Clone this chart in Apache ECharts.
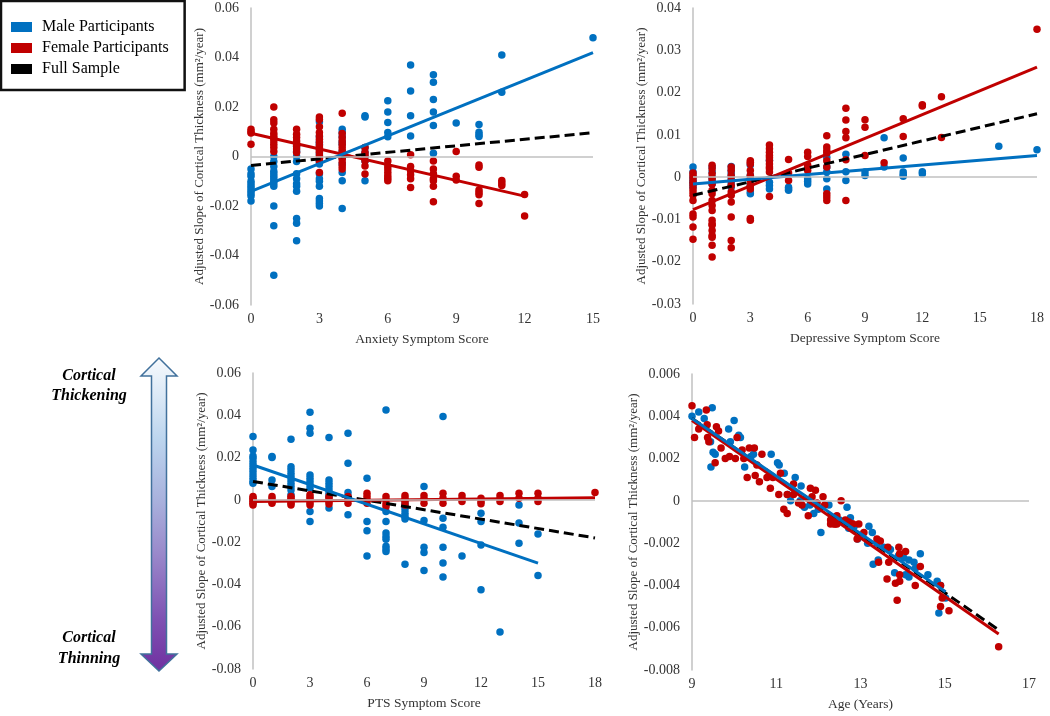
<!DOCTYPE html>
<html><head><meta charset="utf-8">
<script src="https://cdn.jsdelivr.net/npm/echarts@6/dist/echarts.min.js"></script>
<style>html,body{margin:0;padding:0;background:#fff}#c{width:1050px;height:716px}</style>
</head><body><div id="c"></div>
<script>
// ---------- DATA ----------
const xTitles = ['Anxiety Symptom Score','Depressive Symptom Score','PTS Symptom Score','Age (Years)'];
const yTitle = 'Adjusted Slope of Cortical Thickness (mm²/year)';
const legendNames = ['Male Participants','Female Participants','Full Sample'];

const anxietyMale = [
[0,-0.005],[0,-0.007],[0,-0.008],[0,-0.010],[0,-0.011],[0,-0.012],[0,-0.013],[0,-0.014],[0,-0.015],[0,-0.016],[0,-0.018],
[1,0.000],[1,-0.002],[1,-0.004],[1,-0.006],[1,-0.007],[1,-0.008],[1,-0.009],[1,-0.010],[1,-0.011],[1,-0.012],[1,-0.020],[1,-0.028],[1,-0.048],
[2,0.004],[2,0.002],[2,0.000],[2,-0.002],[2,-0.007],[2,-0.009],[2,-0.011],[2,-0.012],[2,-0.014],[2,-0.025],[2,-0.027],[2,-0.034],
[3,0.014],[3,0.008],[3,0.006],[3,0.005],[3,0.003],[3,0.001],[3,-0.002],[3,-0.003],[3,-0.007],[3,-0.009],[3,-0.010],[3,-0.012],[3,-0.017],[3,-0.018],[3,-0.019],[3,-0.020],
[4,0.011],[4,0.0097],[4,0.008],[4,0.006],[4,0.005],[4,0.002],[4,-0.0005],[4,-0.003],[4,-0.0065],[4,-0.0098],[4,-0.021],
[5,0.0165],[5,0.016],[5,0.0036],[5,0.0016],[5,0],[5,-0.0018],[5,-0.0098],
[6,0.0225],[6,0.018],[6,0.0137],[6,0.0097],[6,0.008],
[7,0.037],[7,0.0265],[7,0.0165],[7,0.0083],
[8,0.033],[8,0.030],[8,0.023],[8,0.018],[8,0.0125],[8,0.0013],
[9,0.0135],
[10,0.0129],[10,0.0098],[10,0.0088],[10,0.0081],
[11,0.041],[11,0.026],
[15,0.048]
];
const anxietyFemale = [
[0,0.011],[0,0.010],[0,0.0095],[0,0.005],
[1,0.020],[1,0.0148],[1,0.0135],[1,0.011],[1,0.0094],[1,0.0083],[1,0.0074],[1,0.0063],[1,0.005],[1,0.0036],[1,0.002],
[2,0.011],[2,0.009],[2,0.0077],[2,0.0063],[2,0.0053],[2,0.0043],[2,0.003],[2,0.0016],
[3,0.016],[3,0.015],[3,0.012],[3,0.0097],[3,0.0083],[3,0.007],[3,0.0057],[3,0.0043],[3,0.0036],[3,0.0023],[3,0.0016],[3,0.0003],[3,-0.0007],[3,-0.0017],[3,-0.0065],
[4,0.0175],[4,0.0093],[4,0.0077],[4,0.0063],[4,0.005],[4,0.0036],[4,0.0023],[4,0.001],[4,-0.0001],[4,-0.001],[4,-0.0024],[4,-0.0038],[4,-0.005],
[5,0.0036],[5,0.0016],[5,0.0003],[5,-0.0017],[5,-0.0038],[5,-0.0071],
[6,-0.0018],[6,-0.0038],[6,-0.005],[6,-0.0065],[6,-0.0078],[6,-0.0088],[6,-0.0098],
[7,0.0007],[7,-0.004],[7,-0.0058],[7,-0.0074],[7,-0.009],[7,-0.0125],
[8,-0.0018],[8,-0.005],[8,-0.007],[8,-0.009],[8,-0.0098],[8,-0.012],[8,-0.0183],
[9,0.002],[9,-0.008],[9,-0.0095],
[10,-0.0034],[10,-0.0043],[10,-0.0135],[10,-0.0145],[10,-0.0155],[10,-0.019],
[11,-0.0097],[11,-0.0107],[11,-0.0117],
[12,-0.0154],[12,-0.024]
];
const anxietyTrendMale = [[0,-0.0141],[15,0.042]];
const anxietyTrendFemale = [[0,0.0094],[12,-0.016]];
const anxietyTrendAll = [[0,-0.0036],[15,0.0096]];

const depressiveMale = [
[0,0.0024],[0,0.0012],[0,0],[0,-0.0008],[0,-0.0012],[0,-0.0016],[0,-0.0024],
[1,0.0024],[1,0.0012],[1,0],[1,-0.0008],[1,-0.0016],
[2,0.0025],[2,0.0016],[2,0.0008],[2,0],[2,-0.0008],[2,-0.0016],[2,-0.0024],
[3,0.0029],[3,0.0004],[3,-0.0004],[3,-0.002],[3,-0.0035],[3,-0.0039],
[4,0.004],[4,-0.0012],[4,-0.002],[4,-0.0028],
[5,-0.0024],[5,-0.0028],[5,-0.0031],
[6,-0.0004],[6,-0.001],[6,-0.0016],
[7,0.0047],[7,0.0024],[7,0.0012],[7,-0.0004],[7,-0.0028],
[8,0.0054],[8,0.0013],[8,-0.0008],
[9,0.0012],[9,0.0004],
[10,0.0093],[10,0.0024],
[11,0.0045],[11,0.0012],[11,0.0006],[11,0.0002],
[12,0.0013],[12,0.0008],
[16,0.0073],
[18,0.0065]
];
const depressiveFemale = [
[0,0.001],[0,0.0004],[0,-0.0004],[0,-0.0012],[0,-0.002],[0,-0.0028],[0,-0.0035],[0,-0.0043],[0,-0.0055],[0,-0.0087],[0,-0.0094],[0,-0.0118],[0,-0.0147],
[1,0.0028],[1,0.002],[1,0.0008],[1,-0.0004],[1,-0.0016],[1,-0.0031],[1,-0.0039],[1,-0.0055],[1,-0.0067],[1,-0.0079],[1,-0.0102],[1,-0.011],[1,-0.0114],[1,-0.0126],[1,-0.0138],[1,-0.0142],[1,-0.0161],[1,-0.0189],
[2,0.0024],[2,0.0016],[2,0.0004],[2,-0.0008],[2,-0.002],[2,-0.0035],[2,-0.0043],[2,-0.0059],[2,-0.0094],[2,-0.015],[2,-0.0167],
[3,0.0039],[3,0.0035],[3,0.0031],[3,0.0016],[3,0.0004],[3,-0.0008],[3,-0.002],[3,-0.0028],[3,-0.0098],[3,-0.0102],
[4,0.0076],[4,0.0067],[4,0.0059],[4,0.0051],[4,0.0046],[4,0.0039],[4,0.0031],[4,0.0024],[4,0.002],[4,0.0012],[4,-0.0046],
[5,0.0042],[5,0.001],[5,-0.0008],
[6,0.0059],[6,0.0049],[6,0.0028],[6,0.0024],[6,0.0016],
[7,0.0098],[7,0.0071],[7,0.0063],[7,0.0057],[7,0.0039],[7,0.0024],[7,-0.0039],[7,-0.0047],[7,-0.0055],
[8,0.0163],[8,0.0135],[8,0.0108],[8,0.0093],[8,0.0041],[8,-0.0055],
[9,0.0136],[9,0.0118],[9,0.0051],
[10,0.0034],
[11,0.0138],[11,0.0096],
[12,0.0171],[12,0.0168],
[13,0.019],[13,0.0094],
[18,0.035]
];
const depressiveTrendMale = [[0,-0.0016],[18,0.0051]];
const depressiveTrendFemale = [[0,-0.0077],[18,0.026]];
const depressiveTrendAll = [[0,-0.0043],[18,0.015]];

const ptsMale = [
[0,0.030],[0,0.0236],[0,0.0208],[0,0.0197],[0,0.018],[0,0.0165],[0,0.015],[0,0.0134],[0,0.0118],[0,0.0102],[0,0.0087],[0,0.0079],
[1,0.0205],[1,0.0200],[1,0.0094],[1,0.0063],
[2,0.0287],[2,0.0157],[2,0.0142],[2,0.0126],[2,0.011],[2,0.0094],[2,0.0079],[2,0.0063],[2,0.0047],[2,0.0024],
[3,0.0414],[3,0.0339],[3,0.0315],[3,0.0118],[3,0.0102],[3,0.0087],[3,0.0071],[3,0.0055],[3,-0.0055],[3,-0.0102],
[4,0.0295],[4,0.0094],[4,0.0079],[4,0.0063],[4,0.0047],[4,0.0031],[4,0.0016],[4,-0.0038],
[5,0.0315],[5,0.0173],[5,0.0035],[5,0.0016],[5,-0.0071],
[6,0.0102],[6,-0.0102],[6,-0.0146],[6,-0.0265],
[7,0.0425],[7,-0.0055],[7,-0.0102],[7,-0.0157],[7,-0.0173],[7,-0.0186],[7,-0.022],[7,-0.0233],[7,-0.0244],
[8,-0.0016],[8,-0.0031],[8,-0.0047],[8,-0.0063],[8,-0.0079],[8,-0.0091],[8,-0.0304],
[9,0.0063],[9,-0.0098],[9,-0.0224],[9,-0.0249],[9,-0.0334],
[10,0.0394],[10,-0.0087],[10,-0.0129],[10,-0.0224],[10,-0.0299],[10,-0.0365],
[11,-0.0265],
[12,-0.0063],[12,-0.0102],[12,-0.0213],[12,-0.0425],
[13,-0.0625],
[14,-0.0024],[14,-0.011],[14,-0.0205],
[15,-0.0161],[15,-0.0358]
];
const ptsFemale = [
[0,0.0016],[0,0.0008],[0,0],[0,-0.0008],[0,-0.0016],[0,-0.0024],
[1,0.0016],[1,0.0004],[1,-0.0008],[1,-0.0016],
[2,0.0016],[2,0.0008],[2,-0.0004],[2,-0.0016],[2,-0.0024],
[3,0.0024],[3,0.0012],[3,0],[3,-0.0012],[3,-0.0024],
[4,0.0016],[4,0.0004],[4,-0.0008],[4,-0.002],
[5,0.0016],[5,0],[5,-0.0016],
[6,0.0031],[6,0.0016],[6,0],[6,-0.0016],
[7,0.0016],[7,0],[7,-0.0019],[7,-0.0031],
[8,0.0021],[8,0.0008],[8,-0.0008],[8,-0.0024],
[9,0.0021],[9,0.0005],[9,-0.0016],
[10,0.0031],[10,0.0008],[10,-0.0016],
[11,0.0021],[11,0.0005],[11,-0.0008],
[12,0.0008],[12,-0.0008],[12,-0.0019],
[13,0.0021],[13,0.0005],[13,-0.0008],
[14,0.0031],[14,0.0008],
[15,0.0031],[15,0.0008],[15,-0.0008],
[18,0.0035]
];
const ptsTrendMale = [[0,0.0165],[15,-0.0299]];
const ptsTrendFemale = [[0,-0.0008],[18,0.001]];
const ptsTrendAll = [[0,0.0087],[18,-0.018]];

const ageMale = [
[9.0,0.0040],[9.16,0.0042],[9.29,0.0039],[9.44,0.0028],[9.45,0.0016],[9.48,0.0044],[9.5,0.0023],[9.55,0.0022],
[9.87,0.0034],[9.91,0.0028],[10.0,0.0038],[10.11,0.0031],[10.15,0.0030],[10.25,0.0016],[10.4,0.0021],[10.46,0.0022],
[10.88,0.0022],[11.03,0.0018],[11.07,0.0017],[11.19,0.0013],[11.27,0.0003],[11.34,0.0],[11.45,0.0011],[11.57,0.0],
[11.59,0.0007],[11.67,-0.0003],[11.8,-0.0002],[11.89,-0.0006],[12.0,-0.0004],[12.06,-0.0015],[12.25,-0.0002],[12.5,-0.0009],
[12.68,-0.0003],[12.72,-0.0013],[12.76,-0.0008],[12.85,-0.0012],[12.93,-0.0018],[13.05,-0.0016],[13.17,-0.0020],[13.2,-0.0012],
[13.28,-0.0015],[13.3,-0.0030],[13.39,-0.0020],[13.42,-0.0028],[13.55,-0.0022],[13.71,-0.0023],[13.81,-0.0034],[13.9,-0.0026],
[14.03,-0.0027],[14.07,-0.0035],[14.15,-0.0036],[14.15,-0.0028],[14.27,-0.0029],[14.3,-0.0032],[14.42,-0.0025],[14.6,-0.0035],
[14.82,-0.0038],[14.86,-0.0053],[14.9,-0.0040],[15.02,-0.0046]
];
const ageFemale = [
[9.0,0.0045],[9.06,0.0030],[9.16,0.0034],[9.34,0.0043],[9.36,0.0036],[9.37,0.0030],[9.4,0.0028],[9.55,0.0018],
[9.58,0.0035],[9.63,0.0033],[9.69,0.0025],[9.79,0.0020],[9.89,0.0021],[10.03,0.0020],[10.07,0.0030],[10.19,0.0024],
[10.23,0.0020],[10.31,0.0011],[10.36,0.0025],[10.48,0.0025],[10.5,0.0012],[10.54,0.0017],[10.6,0.0009],[10.66,0.0022],
[10.78,0.0011],[10.86,0.0006],[10.92,0.0011],[11.06,0.0003],[11.1,0.0013],[11.18,-0.0004],[11.26,-0.0006],[11.26,0.0003],
[11.41,0.0008],[11.41,0.0003],[11.53,-0.0001],[11.61,-0.0002],[11.76,-0.0007],[11.81,0.0006],[11.85,0.0002],[11.93,0.0005],
[11.97,-0.0001],[12.11,0.0002],[12.15,-0.0002],[12.29,-0.0009],[12.29,-0.0011],[12.36,-0.001],[12.37,-0.0011],[12.4,-0.0011],
[12.44,-0.0007],[12.44,-0.0011],[12.54,0.0],[12.64,-0.0009],[12.72,-0.001],[12.8,-0.0011],[12.82,-0.0011],[12.92,-0.0018],
[12.96,-0.0011],[13.08,-0.0015],[13.39,-0.0018],[13.43,-0.0029],[13.47,-0.0019],[13.63,-0.0037],[13.65,-0.0022],[13.67,-0.0029],
[13.83,-0.0039],[13.87,-0.0047],[13.91,-0.0022],[13.93,-0.0025],[13.93,-0.0035],[13.93,-0.0038],[14.07,-0.0024],[14.3,-0.0040],
[14.42,-0.0031],[14.9,-0.0040],[14.9,-0.0050],[14.94,-0.0046],[15.1,-0.0052],[16.28,-0.0069]
];
const ageTrendMale = [[9.0,0.0039],[15.02,-0.0043]];
const ageTrendFemale = [[9.0,0.0038],[16.28,-0.0063]];
const ageTrendAll = [[9.0,0.0039],[16.28,-0.0061]];

const xRanges = [[0,15,3],[0,18,3],[0,18,3],[9,17,1]];
const yRanges = [[-0.06,0.06,0.02],[-0.03,0.04,0.01],[-0.08,0.06,0.02],[-0.008,0.006,0.002]];

// ---------- CHART ----------
const FONT = 'Liberation Serif';
const BLUE = '#0070C0', RED = '#C00000', AXIS = '#c0c0c0', TXT = '#333';
const grids = [
  {left:251, top:8, width:342, height:297},
  {left:693, top:8, width:344, height:296},
  {left:253, top:373, width:342, height:296},
  {left:692, top:374, width:337, height:296}
];
const yNameGaps = [38, 38, 40, 45];
const panels = [
  [anxietyMale, anxietyFemale, anxietyTrendMale, anxietyTrendFemale, anxietyTrendAll],
  [depressiveMale, depressiveFemale, depressiveTrendMale, depressiveTrendFemale, depressiveTrendAll],
  [ptsMale, ptsFemale, ptsTrendMale, ptsTrendFemale, ptsTrendAll],
  [ageMale, ageFemale, ageTrendMale, ageTrendFemale, ageTrendAll]
];

const xAxis = xRanges.map((r,i)=>({
  type:'value', gridIndex:i, min:r[0], max:r[1], interval:r[2],
  name:xTitles[i], nameLocation:'middle', nameGap:27,
  nameTextStyle:{fontFamily:FONT, fontSize:13.5, color:TXT},
  axisLine:{show:false}, axisTick:{show:false}, splitLine:{show:false},
  axisLabel:{fontFamily:FONT, fontSize:14, color:TXT, margin:7,
    formatter: i===3 ? (v=>(Math.round(v)%2===1?String(Math.round(v)):'')) : null}
}));
const yAxis = yRanges.map((r,i)=>({
  type:'value', gridIndex:i, min:r[0], max:r[1], interval:r[2],
  name:yTitle, nameLocation:'middle', nameRotate:90, nameGap:yNameGaps[i],
  nameTextStyle:{fontFamily:FONT, fontSize:13, color:TXT},
  axisLine:{show:true, lineStyle:{color:AXIS, width:1.5}}, axisTick:{show:false}, splitLine:{show:false},
  axisLabel:{fontFamily:FONT, fontSize:14, color:TXT, margin:12}
}));

const series = [];
panels.forEach((p,i)=>{
  series.push({type:'line', data:[], xAxisIndex:i, yAxisIndex:i, silent:true, z:1,
    markLine:{silent:true, symbol:'none', label:{show:false}, animation:false,
      lineStyle:{color:AXIS, width:1.5, type:'solid'}, emphasis:{disabled:true}, data:[{yAxis:0}]}});
  series.push({name:legendNames[0], type:'scatter', data:p[0], xAxisIndex:i, yAxisIndex:i, symbolSize:7.5, z:2,
    itemStyle:{color:BLUE, opacity:1}});
  series.push({name:legendNames[1], type:'scatter', data:p[1], xAxisIndex:i, yAxisIndex:i, symbolSize:7.5, z:2,
    itemStyle:{color:RED, opacity:1}});
  series.push({name:legendNames[2], type:'line', data:p[4], xAxisIndex:i, yAxisIndex:i, symbol:'none', z:3,
    itemStyle:{color:'#000'}, lineStyle:{color:'#000', width:3, type:[10,5]}});
  series.push({name:legendNames[1], type:'line', data:p[3], xAxisIndex:i, yAxisIndex:i, symbol:'none', z:3,
    itemStyle:{color:RED}, lineStyle:{color:RED, width:3}});
  series.push({name:legendNames[0], type:'line', data:p[2], xAxisIndex:i, yAxisIndex:i, symbol:'none', z:3,
    itemStyle:{color:BLUE}, lineStyle:{color:BLUE, width:3}});
});

const chart = echarts.init(document.getElementById('c'), null, {renderer:'canvas'});
chart.setOption({
  animation:false,
  backgroundColor:'#fff',
  grid:grids,
  xAxis, yAxis, series,
  legend:{
    left:1, top:1, orient:'vertical', selectedMode:false,
    padding:[18,16,13,10], itemGap:5, itemWidth:21, itemHeight:10,
    borderColor:'#111', borderWidth:2.5, backgroundColor:'#fff',
    textStyle:{fontFamily:FONT, fontSize:16, color:'#000', padding:[0,0,0,5]},
    data:[
      {name:legendNames[0], icon:'rect', itemStyle:{color:BLUE}},
      {name:legendNames[1], icon:'rect', itemStyle:{color:RED}},
      {name:legendNames[2], icon:'rect', itemStyle:{color:'#000'}}
    ]
  },
  graphic:[
    {type:'polygon', silent:true,
      shape:{points:[[159,358],[177,376],[166.5,376],[166.5,654],[177,654],[159,671],[141,654],[151.5,654],[151.5,376],[141,376]]},
      style:{fill:new echarts.graphic.LinearGradient(0,0,0,1,[
        {offset:0,color:'#f7fafd'},{offset:0.26,color:'#bcd5ee'},{offset:0.45,color:'#a9b2dd'},
        {offset:0.62,color:'#9a8acb'},{offset:0.83,color:'#7f52b3'},{offset:1,color:'#7030a0'}]),
        stroke:'#41719c', lineWidth:1.5}},
    {type:'text', x:89, y:376, silent:true, style:{text:'Cortical', font:'italic bold 16px "Liberation Serif"', fill:'#000', align:'center', verticalAlign:'middle'}},
    {type:'text', x:89, y:396, silent:true, style:{text:'Thickening', font:'italic bold 16px "Liberation Serif"', fill:'#000', align:'center', verticalAlign:'middle'}},
    {type:'text', x:89, y:638, silent:true, style:{text:'Cortical', font:'italic bold 16px "Liberation Serif"', fill:'#000', align:'center', verticalAlign:'middle'}},
    {type:'text', x:89, y:659, silent:true, style:{text:'Thinning', font:'italic bold 16px "Liberation Serif"', fill:'#000', align:'center', verticalAlign:'middle'}}
  ]
});
</script>
</body></html>
